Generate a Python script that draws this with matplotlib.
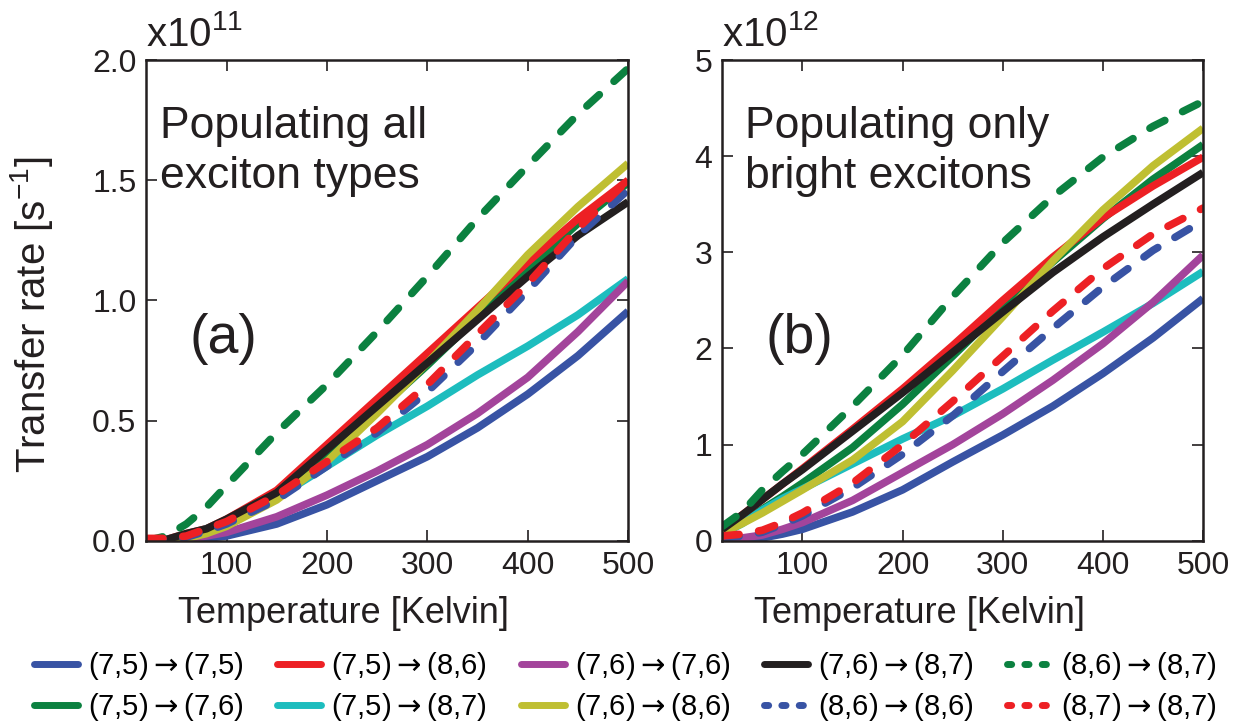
import numpy as np
import matplotlib
matplotlib.use("Agg")
import matplotlib.pyplot as plt
from matplotlib.lines import Line2D
from matplotlib.font_manager import FontProperties

plt.rcParams["font.family"] = ["Liberation Sans", "DejaVu Sans"]
plt.rcParams["mathtext.fontset"] = "custom"
plt.rcParams["mathtext.rm"] = "Liberation Sans"
plt.rcParams["mathtext.it"] = "Liberation Sans"

temps = [20, 40, 60, 80, 100, 150, 200, 250, 300, 350, 400, 450, 500]

labels = [
    r"(7,5)$\rightarrow$(7,5)", r"(7,5)$\rightarrow$(7,6)",
    r"(7,5)$\rightarrow$(8,6)", r"(7,5)$\rightarrow$(8,7)",
    r"(7,6)$\rightarrow$(7,6)", r"(7,6)$\rightarrow$(8,6)",
    r"(7,6)$\rightarrow$(8,7)", r"(8,6)$\rightarrow$(8,6)",
    r"(8,6)$\rightarrow$(8,7)", r"(8,7)$\rightarrow$(8,7)",
]
colors = ["#3853A4", "#0B8140", "#ED2024", "#1DBDBE", "#A3449B",
          "#BFBF32", "#231F20", "#3853A4", "#0B8140", "#ED2024"]
dashed = [False, False, False, False, False, False, False, True, True, True]

# panel (a): populating all exciton types, units of 1e11 s^-1
rate_a_75_75 = [0, 0, 0, 0.01, 0.02, 0.07, 0.15, 0.25, 0.35, 0.47, 0.61, 0.77, 0.955]
rate_a_75_76 = [0, 0.005, 0.02, 0.04, 0.07, 0.18, 0.35, 0.54, 0.73, 0.93, 1.13, 1.32, 1.49]
rate_a_75_86 = [0, 0.005, 0.03, 0.05, 0.09, 0.21, 0.40, 0.59, 0.78, 0.97, 1.16, 1.34, 1.50]
rate_a_75_87 = [0, 0.005, 0.02, 0.05, 0.08, 0.18, 0.31, 0.44, 0.56, 0.69, 0.81, 0.94, 1.09]
rate_a_76_76 = [0, 0, 0.005, 0.02, 0.035, 0.10, 0.19, 0.29, 0.40, 0.53, 0.68, 0.87, 1.08]
rate_a_76_86 = [0, 0, 0.01, 0.03, 0.06, 0.17, 0.33, 0.53, 0.74, 0.96, 1.19, 1.39, 1.57]
rate_a_76_87 = [0, 0.005, 0.03, 0.05, 0.09, 0.20, 0.38, 0.56, 0.74, 0.92, 1.10, 1.27, 1.41]
rate_a_86_86 = [0, 0.005, 0.015, 0.04, 0.07, 0.17, 0.31, 0.45, 0.62, 0.82, 1.04, 1.27, 1.46]
rate_a_86_87 = [0, 0.02, 0.07, 0.14, 0.23, 0.45, 0.65, 0.87, 1.10, 1.34, 1.56, 1.775, 1.965]
rate_a_87_87 = [0.01, 0.01, 0.02, 0.05, 0.08, 0.19, 0.33, 0.47, 0.65, 0.86, 1.07, 1.30, 1.50]

# panel (b): populating only bright excitons, units of 1e12 s^-1
rate_b_75_75 = [0, 0.01, 0.03, 0.07, 0.12, 0.30, 0.53, 0.82, 1.10, 1.40, 1.74, 2.11, 2.52]
rate_b_75_76 = [0.10, 0.20, 0.33, 0.46, 0.60, 0.97, 1.42, 1.92, 2.43, 2.90, 3.35, 3.76, 4.12]
rate_b_75_86 = [0.10, 0.27, 0.43, 0.59, 0.75, 1.16, 1.58, 2.03, 2.50, 2.95, 3.36, 3.69, 3.99]
rate_b_75_87 = [0.07, 0.18, 0.32, 0.44, 0.54, 0.80, 1.06, 1.30, 1.58, 1.88, 2.17, 2.47, 2.80]
rate_b_76_76 = [0.02, 0.03, 0.06, 0.12, 0.19, 0.42, 0.71, 1.00, 1.32, 1.67, 2.05, 2.48, 2.97]
rate_b_76_86 = [0.08, 0.18, 0.29, 0.41, 0.53, 0.84, 1.24, 1.77, 2.33, 2.91, 3.44, 3.90, 4.29]
rate_b_76_87 = [0.12, 0.27, 0.43, 0.59, 0.74, 1.14, 1.54, 1.96, 2.38, 2.79, 3.16, 3.50, 3.83]
rate_b_86_86 = [0.03, 0.05, 0.09, 0.17, 0.26, 0.55, 0.90, 1.30, 1.76, 2.21, 2.64, 3.02, 3.33]
rate_b_86_87 = [0.15, 0.30, 0.53, 0.72, 0.90, 1.40, 1.93, 2.54, 3.10, 3.58, 3.99, 4.31, 4.57]
rate_b_87_87 = [0.05, 0.07, 0.11, 0.19, 0.29, 0.60, 1.00, 1.45, 1.92, 2.39, 2.83, 3.19, 3.46]

rates_a = [rate_a_75_75, rate_a_75_76, rate_a_75_86, rate_a_75_87, rate_a_76_76,
           rate_a_76_86, rate_a_76_87, rate_a_86_86, rate_a_86_87, rate_a_87_87]
rates_b = [rate_b_75_75, rate_b_75_76, rate_b_75_86, rate_b_75_87, rate_b_76_76,
           rate_b_76_86, rate_b_76_87, rate_b_86_86, rate_b_86_87, rate_b_87_87]

ink = "#231F20"

fig = plt.figure(figsize=(12.39, 7.23), dpi=100)
ax_a = fig.add_axes([0.118, 0.252, 0.389, 0.665])
ax_b = fig.add_axes([0.583, 0.252, 0.388, 0.665])

T = np.array(temps)
for ax, rates in [(ax_a, rates_a), (ax_b, rates_b)]:
    for i in range(len(labels)):
        if dashed[i]:
            ax.plot(T, rates[i], color=colors[i], lw=5.5, ls=(0, (2.2, 2.6)),
                    dash_capstyle="round", solid_joinstyle="round")
        else:
            ax.plot(T, rates[i], color=colors[i], lw=5.5,
                    solid_capstyle="butt", solid_joinstyle="round")

for ax in (ax_a, ax_b):
    ax.set_xlim(20, 500)
    ax.set_xticks([100, 200, 300, 400, 500])
    ax.tick_params(direction="in", top=True, right=True, labelsize=23,
                   length=8, width=1.2, colors=ink, pad=7)
    for s in ax.spines.values():
        s.set_linewidth(1.8)
        s.set_color(ink)
    ax.set_xlabel("Temperature [Kelvin]", fontsize=26, color=ink)
    ax.xaxis.set_label_coords(0.41, -0.115)

ax_a.set_ylim(0, 2.0)
ax_a.set_yticks([0, 0.5, 1.0, 1.5, 2.0])
ax_a.set_yticklabels(["0.0", "0.5", "1.0", "1.5", "2.0"])
ax_b.set_ylim(0, 5)
ax_b.set_yticks([0, 1, 2, 3, 4, 5])

ax_a.set_ylabel("Transfer rate [s$^{-1}$]", fontsize=29, color=ink)
ax_a.yaxis.set_label_coords(-0.19, 0.47)

ax_a.text(0.0, 1.012, "x10$^{11}$", transform=ax_a.transAxes, fontsize=29,
          color=ink, va="bottom", ha="left")
ax_b.text(0.0, 1.012, "x10$^{12}$", transform=ax_b.transAxes, fontsize=29,
          color=ink, va="bottom", ha="left")

ax_a.text(0.029, 0.905, "Populating all\nexciton types", transform=ax_a.transAxes,
          fontsize=32, color=ink, va="top", ha="left", linespacing=1.3)
ax_b.text(0.048, 0.905, "Populating only\nbright excitons", transform=ax_b.transAxes,
          fontsize=32, color=ink, va="top", ha="left", linespacing=1.3)
ax_a.text(0.09, 0.42, "(a)", transform=ax_a.transAxes, fontsize=40, color=ink, va="center")
ax_b.text(0.089, 0.42, "(b)", transform=ax_b.transAxes, fontsize=40, color=ink, va="center")

# legend handles: solid bars, dashed ones shown as dots
handles = []
for i in range(len(labels)):
    if dashed[i]:
        h = Line2D([], [], color=colors[i], lw=5, ls=(0, (0.6, 1.9)),
                   dash_capstyle="round")
    else:
        h = Line2D([], [], color=colors[i], lw=5, solid_capstyle="round")
    handles.append(h)

leg_font = FontProperties(family=["Liberation Sans", "DejaVu Sans"], size=21,
                          math_fontfamily="dejavusans")
fig.legend(handles, labels, loc="center", ncol=5, frameon=False,
           bbox_to_anchor=(0.505, 0.05), prop=leg_font, handlelength=1.5,
           handletextpad=0.35, columnspacing=1.15, labelspacing=0.3,
           borderpad=0.2)

fig.savefig("out.png", dpi=100)
